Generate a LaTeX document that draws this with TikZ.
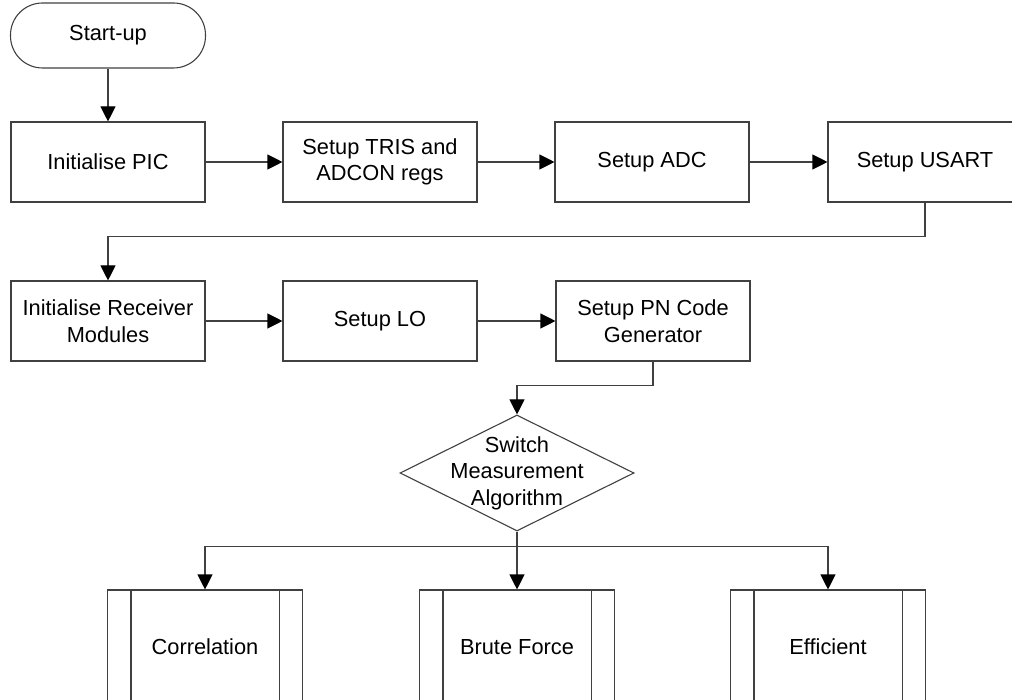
\documentclass[tikz,border=0pt]{standalone}
\usepackage{fontspec}
\setmainfont{Liberation Sans}
\usetikzlibrary{positioning, arrows.meta, shapes.geometric}

\begin{document}
\begin{tikzpicture}[x=1pt, y=-1pt,
    font=\fontsize{21.8}{26.5}\selectfont,
    procbox/.style={draw=black!75, line width=1.1pt, rectangle, align=center,
      minimum width=194pt, minimum height=80pt, inner sep=0pt},
    termbox/.style={procbox, rounded corners=32pt, minimum width=195pt, minimum height=65pt},
    decbox/.style={draw=black!75, line width=1.1pt, diamond, inner sep=0pt,
      minimum width=234pt, minimum height=116pt},
    subbox/.style={procbox, minimum width=195pt, minimum height=114pt},
    flowline/.style={draw=black!75, line width=1.1pt, -{Triangle[length=15pt, width=15pt, color=black]}},
  ]
  \useasboundingbox (0,0) rectangle (1012,700);
  \clip (0,0) rectangle (1012,700);

  % start and first row
  \node[termbox] (start) at (108,35.5) {Start-up};
  \node[procbox] (initpic) at (108,162) {Initialise PIC};
  \node[procbox] (tris)    at (380,162) {Setup TRIS and\\ADCON regs};
  \node[procbox] (adc)     at (652,162) {Setup ADC};
  \node[procbox] (usart)   at (925,162) {Setup USART};

  % second row
  \node[procbox] (recv)   at (108,321) {Initialise Receiver\\Modules};
  \node[procbox] (setlo)  at (380,321) {Setup LO};
  \node[procbox] (pncode) at (653,321) {Setup PN Code\\Generator};

  % decision (shape drawn empty, text put on top)
  \node[decbox] (dec) at (517,473) {};
  \node[align=center, inner sep=0pt] (dectext) at (dec.center) {Switch\\Measurement\\Algorithm};

  % subroutines, cut off by the bottom edge
  \node[subbox] (corr)  at (205,647) {Correlation};
  \node[subbox] (brute) at (517,647) {Brute Force};
  \node[subbox] (effic) at (828,647) {Efficient};
  \foreach \n in {corr,brute,effic} {
    \draw[draw=black!75, line width=1.1pt] ([xshift=24pt]\n.north west) -- ([xshift=24pt]\n.south west);
    \draw[draw=black!75, line width=1.1pt] ([xshift=-24pt]\n.north east) -- ([xshift=-24pt]\n.south east);
  }

  % connectors
  \draw[flowline] (start) -- (initpic);
  \draw[flowline] (initpic) -- (tris);
  \draw[flowline] (tris) -- (adc);
  \draw[flowline] (adc) -- (usart);
  \draw[flowline] (usart.south) -- ++(0,34) -| (recv.north);
  \draw[flowline] (recv) -- (setlo);
  \draw[flowline] (setlo) -- (pncode);
  \draw[flowline] (pncode.south) -- ++(0,24) -| (dec.north);

  \path (dec.south) ++(0,15) coordinate (split);
  \draw[flowline] (dec.south) -- (brute.north);
  \draw[flowline] (split) -| (corr.north);
  \draw[flowline] (split) -| (effic.north);
\end{tikzpicture}
\end{document}
